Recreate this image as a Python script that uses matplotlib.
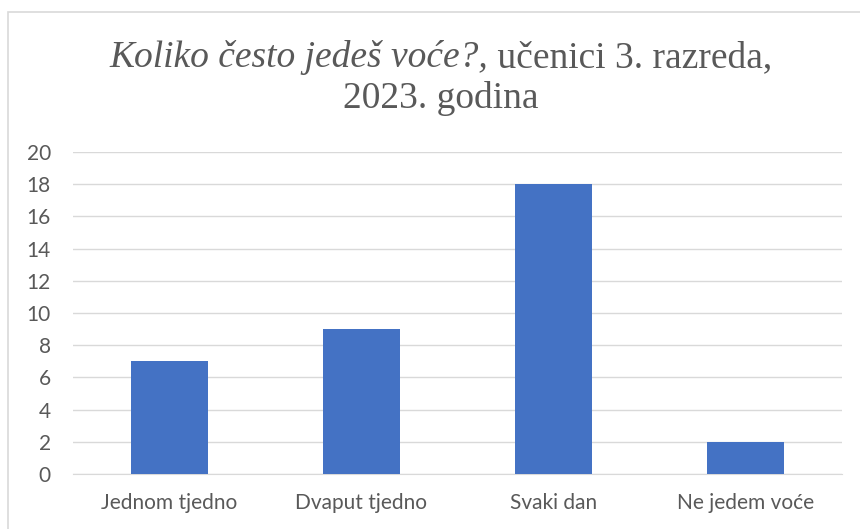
import matplotlib.pyplot as plt
from matplotlib.patches import Rectangle

kategorije = ['Jednom tjedno', 'Dvaput tjedno', 'Svaki dan', 'Ne jedem voće']
broj_ucenika = [7, 9, 18, 2]
y_ticks = [0, 2, 4, 6, 8, 10, 12, 14, 16, 18, 20]

W, H = 860, 529
fig = plt.figure(figsize=(W / 100, H / 100), dpi=100)

# okvir grafikona
fig.patches.append(Rectangle((8 / W, -0.1), 1.0, 1 - 12 / H + 0.1,
                             transform=fig.transFigure, fill=False,
                             edgecolor='#d9d9d9', linewidth=1.2))

ax = fig.add_axes([73 / W, 1 - 474 / H, (842 - 73) / W, (474 - 152) / H])
x = range(len(kategorije))
ax.bar(x, broj_ucenika, width=0.4, color='#4472C4', zorder=3)
ax.set_xlim(-0.5, len(kategorije) - 0.5)
ax.set_ylim(0, 20)
ax.set_yticks(y_ticks)
ax.set_xticks(list(x))
ax.set_xticklabels(kategorije)
ax.grid(axis='y', color='#d9d9d9', linewidth=1, zorder=0)
for s in ['top', 'right', 'left']:
    ax.spines[s].set_visible(False)
ax.spines['bottom'].set_color('#d9d9d9')
ax.tick_params(length=0, labelsize=15, labelcolor='#595959')
ax.tick_params(axis='y', pad=16)
ax.tick_params(axis='x', pad=14)
for lbl in ax.get_xticklabels() + ax.get_yticklabels():
    lbl.set_family('Lato')

# naslov: dio u kurzivu + obicni dio
tfont = dict(family='Liberation Serif', size=27, color='#595959')
t1 = fig.text(0, 1 - 67 / H, 'Koliko često jedeš voće?,', style='italic', **tfont)
t2 = fig.text(0, 1 - 67 / H, ' učenici 3. razreda,', **tfont)
fig.canvas.draw()
r = fig.canvas.get_renderer()
w1 = t1.get_window_extent(r).width
w2 = t2.get_window_extent(r).width
cx = 441
start = cx - (w1 + w2) / 2
t1.set_x(start / W)
t2.set_x((start + w1) / W)
fig.text(cx / W, 1 - 108 / H, '2023. godina', ha='center', va='baseline', **tfont)
t1.set_va('baseline')
t2.set_va('baseline')

fig.savefig('out.png', dpi=100)
